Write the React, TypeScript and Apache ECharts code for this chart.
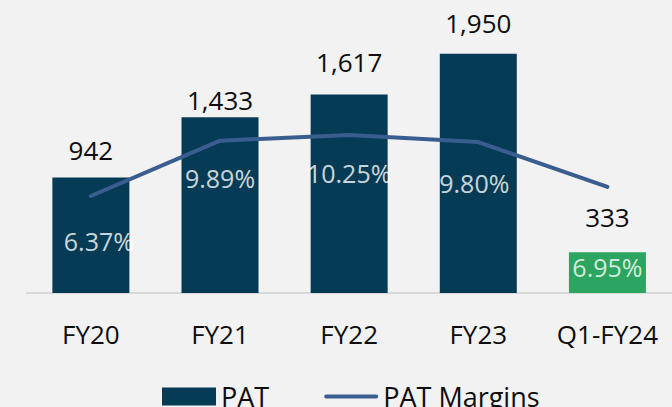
import React, { useEffect, useRef } from "react";
import * as echarts from "echarts";

const categories = ["FY20", "FY21", "FY22", "FY23", "Q1-FY24"];
const patValues = [942, 1433, 1617, 1950, 333];
const marginValues = [6.37, 9.89, 10.25, 9.8, 6.95];

const barColors = ["#063B55", "#063B55", "#063B55", "#063B55", "#2BA55F"];
const barLabelOffsets = [[0, -10], [0, 0], [0, -16], [0, -14], [0, -18]];
const lineLabelOffsets = [[8, 7], [0, 0], [0, 0], [-4, 3], [0, 43]];

const FONT = "Open Sans";
const LINE_ICON = "path://M2,0 H54 A2,2 0 0 1 54,4 H2 A2,2 0 0 1 2,0 Z";

export default function App() {
  const ref = useRef<HTMLDivElement>(null);
  useEffect(() => {
    document.body.style.margin = "0";
    document.body.style.background = "#F2F2F2";
    const chart = echarts.init(ref.current!, null, { renderer: "svg" });
    chart.setOption({
      animation: false,
      backgroundColor: "#F2F2F2",
      textStyle: { fontFamily: FONT },
      grid: { left: 26.3, right: -6.8, top: 47.6, bottom: 114 },
      legend: {
        left: 157,
        top: 378,
        itemWidth: 54,
        itemHeight: 18,
        itemGap: 55,
        symbolKeepAspect: true,
        textStyle: { fontSize: 27, color: "#0d0d0d", fontFamily: FONT },
        data: [
          { name: "PAT", icon: "rect" },
          { name: "PAT Margins", icon: LINE_ICON },
        ],
      },
      xAxis: {
        type: "category",
        data: categories,
        axisLine: { lineStyle: { color: "#D9D9D9", width: 2 } },
        axisTick: { show: false },
        axisLabel: { interval: 0, fontSize: 26, color: "#0d0d0d", margin: 28, fontFamily: FONT },
      },
      yAxis: [
        { type: "value", min: 0, max: 2000, show: false, splitLine: { show: false } },
        { type: "value", min: 0.2, max: 15.81, show: false, splitLine: { show: false } },
      ],
      series: [
        {
          name: "PAT",
          type: "bar",
          barWidth: 77,
          itemStyle: { color: barColors[0] },
          data: patValues.map((v, i) => ({
            value: v,
            itemStyle: { color: barColors[i] },
            label: { offset: barLabelOffsets[i] },
          })),
          label: {
            show: true,
            position: "top",
            distance: 4,
            fontSize: 26,
            color: "#0d0d0d",
            fontFamily: FONT,
            formatter: (p: any) => Number(p.value).toLocaleString("en-US"),
          },
        },
        {
          name: "PAT Margins",
          type: "line",
          yAxisIndex: 1,
          symbol: "none",
          lineStyle: { color: "#3A5D8F", width: 4, cap: "round" },
          itemStyle: { color: "#3A5D8F" },
          z: 5,
          data: marginValues,
        },
        {
          name: "PAT Margins Labels",
          type: "scatter",
          yAxisIndex: 1,
          symbolSize: 0,
          z: 6,
          itemStyle: { color: "transparent" },
          data: marginValues.map((v, i) => ({
            value: v,
            label: { offset: lineLabelOffsets[i] },
          })),
          label: {
            show: true,
            position: "bottom",
            distance: 25,
            fontSize: 25,
            color: "#FFFFFF",
            fontFamily: FONT,
            formatter: (p: any) => Number(p.value).toFixed(2) + "%",
          },
        },
      ],
    });
    return () => chart.dispose();
  }, []);
  return <div ref={ref} style={{ width: 672, height: 407 }} />;
}
